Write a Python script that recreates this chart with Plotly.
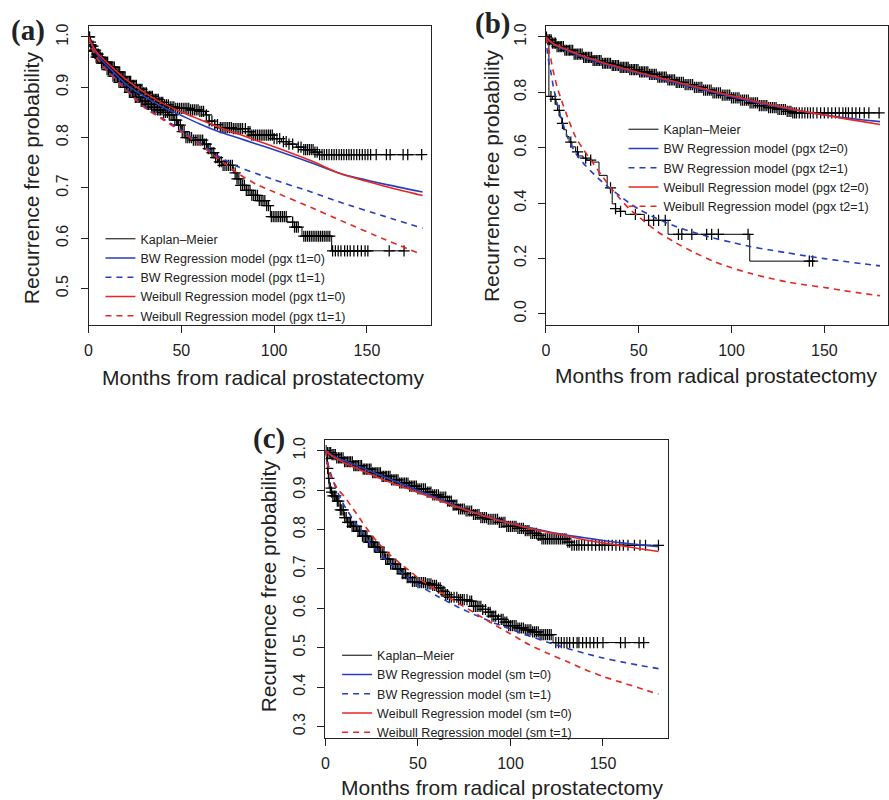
import numpy as np
import plotly.graph_objects as go

# ---------------- Panel (a): pgx t1 ----------------
a_km0_t = [0, 0.8, 1.5, 2.5, 4, 6, 8, 11, 14, 17, 20, 23, 26, 29, 32, 35, 38, 41, 44, 47, 55, 60, 63, 65, 68, 71, 78, 86, 88, 100, 104, 108, 112, 116, 122, 124, 180]
a_km0_s = [1.0, 0.99, 0.982, 0.974, 0.966, 0.958, 0.95, 0.94, 0.93, 0.921, 0.912, 0.904, 0.896, 0.889, 0.882, 0.876, 0.87, 0.865, 0.861, 0.858, 0.855, 0.852, 0.845, 0.833, 0.826, 0.82, 0.818, 0.812, 0.805, 0.798, 0.792, 0.787, 0.781, 0.776, 0.771, 0.766, 0.766]
a_cens0 = [0.3, 1, 1.7, 2.4, 3.1, 3.8, 4.5, 5.2, 6, 6.7, 7.4, 8.1, 8.8, 9.5, 10.3, 11, 11.7, 12.4, 13.1, 13.9, 14.6, 15.3, 16, 16.8, 17.5, 18.2, 19, 19.7, 20.4, 21.2, 22, 22.7, 23.5, 24.2, 25, 25.8, 26.5, 27.3, 28, 28.8, 29.6, 30.4, 31.2, 32, 32.8, 33.6, 34.4, 35.2, 36, 36.8, 37.6, 38.4, 39.2, 40, 41, 42, 43, 44, 45, 46, 47, 48, 49, 50, 51, 52, 53, 54, 55, 56, 57, 58, 59, 60, 61, 62, 63.5, 65, 66.5, 68, 69.5, 71, 72, 73, 74, 75, 76, 77, 78, 79, 80, 81, 82, 83, 84.5, 86, 87, 88, 89, 90, 91, 92, 93, 94, 95, 96, 97, 98, 99, 100, 101.5, 103, 105, 106.5, 108, 110, 113, 114.5, 116, 117, 118, 119, 120, 121, 122, 123.2, 124.5, 125.8, 127, 128.3, 129.6, 131, 132.3, 133.6, 135, 136.3, 137.6, 139, 140.3, 141.6, 143, 144.5, 146, 147.5, 149, 150.5, 152, 155, 160.5, 162.5, 169.5, 172, 179.5]

a_km1_t = [0, 1, 2, 4, 7, 10, 13, 16, 19, 22, 25, 28, 31, 34, 37, 40, 43, 46, 48, 50, 52, 56, 62, 64, 66, 68, 70, 72, 78, 80, 82, 85, 88, 92, 96, 98, 107, 111, 115, 131, 170]
a_km1_s = [1.0, 0.985, 0.972, 0.96, 0.948, 0.935, 0.922, 0.91, 0.9, 0.89, 0.88, 0.872, 0.866, 0.86, 0.855, 0.85, 0.845, 0.835, 0.825, 0.812, 0.80, 0.795, 0.787, 0.778, 0.77, 0.76, 0.752, 0.745, 0.73, 0.718, 0.705, 0.695, 0.685, 0.675, 0.665, 0.643, 0.632, 0.622, 0.604, 0.575, 0.575]
a_cens1 = [0.6, 1.3, 2, 2.7, 3.4, 4.1, 4.8, 5.5, 6.3, 7, 7.8, 8.5, 9.3, 10, 10.8, 11.6, 12.4, 13.2, 14, 14.8, 15.6, 16.4, 17.2, 18, 18.8, 19.6, 20.4, 21.2, 22, 22.8, 23.6, 24.4, 25.2, 26, 26.8, 27.6, 28.4, 29.2, 30, 30.8, 31.6, 32.4, 33.2, 34, 34.8, 35.6, 36.4, 37.2, 38, 38.8, 39.6, 40.5, 41.5, 42.5, 43.5, 44.5, 45.5, 46.5, 47.5, 48.5, 49.5, 50.5, 51.5, 52.5, 53.5, 54.5, 55.5, 56.5, 57.5, 58.5, 59.5, 60.5, 61.5, 62.5, 63.5, 64.5, 65.5, 66.5, 67.5, 68.5, 69.5, 70.5, 71.5, 72.5, 73.5, 74.5, 75.5, 76.5, 77.5, 79, 80, 81, 82, 83, 84, 85, 86, 87, 88, 89, 90, 91, 92, 93, 94, 95, 96, 97, 98.5, 99.5, 100.5, 101.5, 102.5, 103.5, 104.5, 105.5, 106.5, 110, 111, 112, 113, 116, 117, 118, 119, 120, 121, 122, 123, 124, 125, 126, 127, 128, 129, 130, 131.5, 133, 134.5, 136, 138, 139.5, 141, 143, 145, 147, 149, 150.5, 162, 170]

a_mod_t = [0, 2, 5, 10, 20, 30, 40, 50, 60, 70, 80, 90, 100, 120, 136, 160, 180]
a_bw0 = [1.0, 0.982, 0.963, 0.943, 0.907, 0.882, 0.861, 0.844, 0.827, 0.812, 0.80, 0.788, 0.776, 0.750, 0.728, 0.707, 0.692]
a_wb0 = [1.0, 0.984, 0.967, 0.949, 0.916, 0.89, 0.868, 0.851, 0.836, 0.821, 0.808, 0.795, 0.782, 0.754, 0.728, 0.703, 0.685]
a_bw1 = [1.0, 0.978, 0.958, 0.936, 0.898, 0.862, 0.838, 0.815, 0.789, 0.763, 0.743, 0.729, 0.716, 0.692, 0.671, 0.643, 0.620]
a_wb1_t = [0, 2, 5, 10, 20, 30, 40, 50, 60, 70, 80, 90, 100, 120, 136, 160, 178]
a_wb1 = [1.0, 0.976, 0.955, 0.933, 0.895, 0.86, 0.836, 0.812, 0.786, 0.758, 0.73, 0.708, 0.692, 0.661, 0.635, 0.597, 0.570]

# ---------------- Panel (b): pgx t2 ----------------
b_km0_t = [0, 1, 3, 6, 10, 15, 20, 25, 30, 35, 40, 45, 50, 55, 60, 65, 70, 75, 80, 85, 90, 95, 100, 105, 110, 115, 120, 125, 130, 133, 180]
b_km0_s = [1.0, 0.99, 0.978, 0.965, 0.952, 0.938, 0.926, 0.915, 0.905, 0.897, 0.89, 0.882, 0.874, 0.865, 0.855, 0.845, 0.836, 0.828, 0.818, 0.808, 0.798, 0.79, 0.78, 0.772, 0.762, 0.752, 0.745, 0.738, 0.731, 0.726, 0.726]
b_cens0 = [0.3, 1.1, 2, 2.8, 3.5, 4.4, 5.2, 6, 6.9, 7.7, 8.5, 9.4, 10.2, 11, 11.9, 12.7, 13.5, 14.4, 15.2, 16.1, 16.9, 17.8, 18.6, 19.5, 20.3, 21.2, 22, 22.9, 23.7, 24.6, 25.4, 26.3, 27.1, 28, 28.8, 29.7, 30.5, 31.4, 32.2, 33.1, 34, 34.8, 35.7, 36.5, 37.4, 38.3, 39.1, 40, 40.9, 41.7, 42.6, 43.5, 44.3, 45.2, 46.1, 47, 47.8, 48.7, 49.6, 50.5, 51.4, 52.2, 53.1, 54, 54.9, 55.8, 56.7, 57.6, 58.5, 59.4, 60.3, 61.2, 62.1, 63, 63.9, 64.8, 65.7, 66.6, 67.5, 68.4, 69.3, 70.2, 71.1, 72, 73, 74, 75, 76, 77, 78, 79, 80, 81, 82, 83, 84, 85, 86, 87, 88, 89, 90, 91, 92, 93, 94, 95, 96, 97, 98, 99, 100, 101, 102, 103, 104, 105, 106, 107, 108, 109, 110, 111, 112, 113, 114, 115, 116, 117, 118, 119, 120, 121, 122, 123, 124, 125, 126, 127, 128, 129, 130, 131, 132, 133, 134, 135, 136.5, 138, 139.5, 141, 142.5, 144, 146, 148, 150, 152, 154, 156, 158, 160, 161.5, 163, 165, 167, 169, 171.5, 174, 179.5]

b_km1_t = [0, 1.6, 3.5, 5.5, 6.2, 7.5, 8.5, 9.5, 11, 12.5, 14, 16, 17.5, 20, 22, 25, 28.6, 33, 35.7, 37.5, 40, 42.8, 53, 65.8, 109.8, 144.6]
b_km1_s = [1.0, 0.785, 0.775, 0.755, 0.735, 0.71, 0.688, 0.665, 0.64, 0.62, 0.603, 0.585, 0.57, 0.562, 0.555, 0.548, 0.5, 0.455, 0.397, 0.38, 0.37, 0.359, 0.337, 0.287, 0.19, 0.19]
b_cens1 = [2.7, 5.0, 7.1, 8.9, 13.4, 17, 21.4, 24.1, 34.8, 37.5, 40.2, 48.2, 55.3, 58, 60.7, 64.3, 71.4, 73.2, 78.6, 86.6, 89.3, 92.9, 108.9, 141.9, 143.7]

b_mod0_t = [0, 2, 5, 10, 20, 30, 40, 50, 60, 70, 80, 90, 100, 110, 120, 130, 140, 150, 160, 170, 180]
b_bw0 = [1.0, 0.985, 0.97, 0.955, 0.928, 0.905, 0.887, 0.869, 0.851, 0.834, 0.817, 0.80, 0.784, 0.768, 0.754, 0.741, 0.729, 0.718, 0.709, 0.701, 0.694]
b_wb0 = [1.0, 0.986, 0.972, 0.958, 0.931, 0.909, 0.89, 0.872, 0.855, 0.838, 0.821, 0.804, 0.788, 0.772, 0.757, 0.743, 0.73, 0.718, 0.706, 0.695, 0.684]
b_mod1_t = [0, 1, 2.5, 4, 6, 8, 12, 16, 20, 25, 30, 35, 40, 45, 50, 60, 70, 80, 90, 100, 110, 120, 130, 140, 150, 160, 170, 180]
b_bw1 = [1.0, 0.93, 0.88, 0.82, 0.76, 0.71, 0.632, 0.58, 0.545, 0.51, 0.478, 0.45, 0.425, 0.40, 0.378, 0.343, 0.315, 0.293, 0.274, 0.258, 0.243, 0.231, 0.22, 0.209, 0.199, 0.19, 0.181, 0.173]
b_wb1 = [1.0, 0.97, 0.925, 0.875, 0.82, 0.778, 0.704, 0.638, 0.595, 0.548, 0.50, 0.455, 0.415, 0.378, 0.35, 0.297, 0.256, 0.221, 0.19, 0.166, 0.146, 0.129, 0.115, 0.104, 0.095, 0.084, 0.074, 0.065]

# ---------------- Panel (c): sm t ----------------
c_km0_t = [0, 1, 3, 6, 10, 15, 20, 25, 30, 35, 40, 45, 50, 55, 58, 62, 66, 69, 72, 76, 80, 84, 88, 94, 98, 104, 108, 111, 115, 117, 131, 133, 180]
c_km0_s = [1.0, 0.995, 0.99, 0.982, 0.972, 0.962, 0.953, 0.944, 0.935, 0.926, 0.918, 0.91, 0.903, 0.895, 0.888, 0.882, 0.872, 0.862, 0.852, 0.847, 0.838, 0.83, 0.826, 0.818, 0.808, 0.803, 0.797, 0.79, 0.785, 0.776, 0.768, 0.76, 0.76]
c_cens0 = [0.3, 1.1, 2, 2.8, 3.6, 4.5, 5.3, 6.1, 7, 7.8, 8.6, 9.5, 10.3, 11.1, 12, 12.8, 13.6, 14.5, 15.3, 16.1, 17, 17.8, 18.7, 19.5, 20.4, 21.2, 22.1, 22.9, 23.8, 24.6, 25.5, 26.3, 27.2, 28, 28.9, 29.7, 30.6, 31.4, 32.3, 33.1, 34, 34.9, 35.7, 36.6, 37.5, 38.3, 39.2, 40.1, 41, 41.9, 42.8, 43.7, 44.6, 45.5, 46.4, 47.3, 48.2, 49.1, 50, 51, 52, 53, 54, 55, 56, 57, 58, 59, 60, 61, 62, 63, 64, 65, 66, 67, 68, 69, 70, 71, 72, 73, 74, 75, 76, 77, 78, 79, 80, 81, 82, 83, 84, 85, 86, 87, 88, 89, 90, 91, 92, 93, 94, 95, 96, 97, 98, 99, 100, 101, 102, 103, 104, 105, 106, 107, 108, 109, 110, 111, 112, 113, 114, 115, 116, 117, 118, 119, 120, 121, 122, 123, 124, 125, 126, 127, 128, 129, 130, 131, 132, 133.2, 134.5, 135.8, 137, 138.5, 140, 142, 144, 146, 148, 149.5, 151, 153, 155, 157, 159, 161, 163.5, 167, 170, 173, 180]

c_km1_t = [0, 0.5, 1, 1.5, 2, 3, 4, 6, 8, 10, 12, 14, 17, 20, 23, 26, 29, 32, 35, 38, 41, 44, 47, 50, 55, 58, 61, 63, 65, 67, 72, 78, 80, 85, 88, 90, 93, 97, 99, 104, 108, 112, 116, 123, 171]
c_km1_s = [1.0, 0.98, 0.955, 0.93, 0.905, 0.895, 0.885, 0.872, 0.85, 0.83, 0.818, 0.808, 0.796, 0.783, 0.768, 0.755, 0.742, 0.725, 0.712, 0.70, 0.688, 0.678, 0.668, 0.665, 0.662, 0.658, 0.652, 0.643, 0.635, 0.628, 0.622, 0.618, 0.605, 0.597, 0.59, 0.58, 0.572, 0.565, 0.556, 0.55, 0.545, 0.54, 0.533, 0.513, 0.513]
c_cens1 = [0.8, 1.2, 1.8, 2.6, 3.3, 4, 4.8, 5.6, 6.4, 7.2, 8, 8.8, 9.6, 10.4, 11.2, 12, 12.8, 13.6, 14.4, 15.2, 16, 16.8, 17.6, 18.4, 19.2, 20, 20.8, 21.6, 22.4, 23.2, 24, 24.8, 25.6, 26.4, 27.2, 28, 28.9, 29.8, 30.7, 31.6, 32.5, 33.4, 34.3, 35.2, 36.1, 37, 37.9, 38.8, 39.7, 40.6, 41.5, 42.4, 43.3, 44.2, 45.1, 46, 47, 48, 49, 50, 51, 52, 53, 54, 55, 56, 57, 58, 59, 60, 61, 62, 63, 64, 65, 66, 67, 68, 69.5, 71, 72, 73, 74, 75, 76.5, 78, 79, 80, 81, 82, 83, 84, 85, 86.5, 88, 89, 90, 91, 92, 93.5, 95, 96, 97, 98, 99, 100, 101, 102, 103, 104, 105, 106, 107, 108, 109, 110, 111, 112, 113, 114, 115, 116, 117, 118, 119, 120, 121, 122, 124.5, 126, 127.5, 129, 130.5, 132, 134, 136, 137, 139, 141, 143, 145, 147, 150, 159.5, 162, 169.5, 172]

c_mod0_t = [0, 2, 5, 10, 20, 30, 40, 50, 60, 70, 80, 90, 100, 110, 120, 130, 140, 150, 160, 170, 180]
c_bw0 = [1.0, 0.993, 0.985, 0.975, 0.956, 0.937, 0.918, 0.899, 0.88, 0.861, 0.844, 0.829, 0.816, 0.805, 0.795, 0.786, 0.779, 0.772, 0.766, 0.761, 0.756]
c_wb0 = [1.0, 0.991, 0.982, 0.97, 0.949, 0.929, 0.911, 0.894, 0.877, 0.859, 0.843, 0.828, 0.815, 0.803, 0.793, 0.784, 0.774, 0.766, 0.759, 0.751, 0.744]
c_mod1_t = [0, 2, 4, 7, 10, 15, 20, 25, 30, 35, 40, 45, 50, 60, 70, 80, 90, 100, 110, 120, 130, 140, 150, 160, 170, 180]
c_bw1 = [1.0, 0.955, 0.925, 0.89, 0.862, 0.825, 0.792, 0.76, 0.735, 0.713, 0.694, 0.676, 0.66, 0.632, 0.607, 0.585, 0.565, 0.547, 0.53, 0.514, 0.499, 0.486, 0.474, 0.464, 0.455, 0.447]
c_wb1 = [1.0, 0.945, 0.925, 0.9, 0.885, 0.852, 0.818, 0.786, 0.758, 0.735, 0.715, 0.697, 0.677, 0.647, 0.618, 0.59, 0.562, 0.535, 0.508, 0.486, 0.466, 0.445, 0.427, 0.412, 0.397, 0.382]

x_ticks = [0, 50, 100, 150]
a_yticks = [0.5, 0.6, 0.7, 0.8, 0.9, 1.0]
b_yticks = [0.0, 0.2, 0.4, 0.6, 0.8, 1.0]
c_yticks = [0.3, 0.4, 0.5, 0.6, 0.7, 0.8, 0.9, 1.0]

BLUE = "rgb(40,62,190)"
RED = "rgb(232,38,32)"
TXT = "#222222"
SANS = "Liberation Sans, Arial, Helvetica, sans-serif"
SERIF = "Liberation Serif, Times New Roman, serif"

fig = go.Figure()


def add_panel(xa, ya, leg, km_sets, models, labels):
    for i, (t, s, cens) in enumerate(km_sets):
        fig.add_trace(go.Scatter(
            x=t, y=s, mode="lines", line=dict(color="black", width=1, shape="hv"),
            xaxis=xa, yaxis=ya, name="Kaplan–Meier", legend=leg,
            showlegend=(i == 0), hoverinfo="skip"))
        t_arr = np.asarray(t, dtype=float)
        s_arr = np.asarray(s, dtype=float)
        idx = np.searchsorted(t_arr, np.asarray(cens, dtype=float), side="right") - 1
        fig.add_trace(go.Scatter(
            x=cens, y=s_arr[idx], mode="markers",
            marker=dict(symbol="cross-thin", size=8, line=dict(width=1.25, color="black")),
            xaxis=xa, yaxis=ya, showlegend=False, hoverinfo="skip"))
    for (t, s, color, dash), name in zip(models, labels):
        fig.add_trace(go.Scatter(
            x=t, y=s, mode="lines",
            line=dict(color=color, width=1.6, dash=dash, shape="spline", smoothing=0.6),
            xaxis=xa, yaxis=ya, name=name, legend=leg, hoverinfo="skip"))


DASH = "6px,5px"
add_panel("x", "y", "legend",
          [(a_km0_t, a_km0_s, a_cens0), (a_km1_t, a_km1_s, a_cens1)],
          [(a_mod_t, a_bw0, BLUE, "solid"), (a_mod_t, a_bw1, BLUE, DASH),
           (a_mod_t, a_wb0, RED, "solid"), (a_wb1_t, a_wb1, RED, DASH)],
          ["BW Regression model (pgx t1=0)", "BW Regression model (pgx t1=1)",
           "Weibull Regression model (pgx t1=0)", "Weibull Regression model (pgx t1=1)"])
add_panel("x2", "y2", "legend2",
          [(b_km0_t, b_km0_s, b_cens0), (b_km1_t, b_km1_s, b_cens1)],
          [(b_mod0_t, b_bw0, BLUE, "solid"), (b_mod1_t, b_bw1, BLUE, DASH),
           (b_mod0_t, b_wb0, RED, "solid"), (b_mod1_t, b_wb1, RED, DASH)],
          ["BW Regression model (pgx t2=0)", "BW Regression model (pgx t2=1)",
           "Weibull Regression model (pgx t2=0)", "Weibull Regression model (pgx t2=1)"])
add_panel("x3", "y3", "legend3",
          [(c_km0_t, c_km0_s, c_cens0), (c_km1_t, c_km1_s, c_cens1)],
          [(c_mod0_t, c_bw0, BLUE, "solid"), (c_mod1_t, c_bw1, BLUE, DASH),
           (c_mod0_t, c_wb0, RED, "solid"), (c_mod1_t, c_wb1, RED, DASH)],
          ["BW Regression model (sm t=0)", "BW Regression model (sm t=1)",
           "Weibull Regression model (sm t=0)", "Weibull Regression model (sm t=1)"])

W, H = 889, 800


def px_x(v):
    return v / W


def px_y(v):
    return 1 - v / H


axis_common = dict(showline=True, linecolor="#222", linewidth=1, mirror=True,
                   ticks="outside", ticklen=7, tickwidth=1, tickcolor="#222",
                   showgrid=False, zeroline=False,
                   tickfont=dict(family=SANS, size=16, color=TXT))

xcommon = dict(axis_common, tickvals=x_ticks, ticktext=[str(v) for v in x_ticks], ticklabelstandoff=4)
ycommon = dict(axis_common, tickangle=-90, tickformat=".1f", ticklabelstandoff=6)

fig.update_layout(
    width=W, height=H, margin=dict(l=0, r=0, t=0, b=0),
    paper_bgcolor="white", plot_bgcolor="white",
    xaxis=dict(xcommon, domain=[px_x(85), px_x(429)], range=[0, 184.3], anchor="y"),
    yaxis=dict(ycommon, domain=[px_y(323), px_y(23)], range=[0.428, 1.022], tickvals=a_yticks, anchor="x"),
    xaxis2=dict(xcommon, domain=[px_x(545), 1.0], range=[0, 184.3], anchor="y2"),
    yaxis2=dict(ycommon, domain=[px_y(323), px_y(23)], range=[-0.04, 1.04], tickvals=b_yticks, anchor="x2"),
    xaxis3=dict(xcommon, domain=[px_x(323.3), px_x(667.3)], range=[0, 184.9], anchor="y3"),
    yaxis3=dict(ycommon, domain=[px_y(737.3), px_y(438.3)], range=[0.272, 1.028], tickvals=c_yticks, anchor="x3"),
    showlegend=True,
)

leg_common = dict(xanchor="left", yanchor="top", bgcolor="rgba(0,0,0,0)", borderwidth=0,
                  font=dict(family=SANS, size=12.5, color=TXT), tracegroupgap=0, itemwidth=30)
fig.update_layout(
    legend=dict(leg_common, x=px_x(97), y=px_y(222)),
    legend2=dict(leg_common, x=px_x(623), y=px_y(112)),
    legend3=dict(leg_common, x=px_x(335), y=px_y(640)),
)

annots = []
for lab, cx, cy in [("(a)", 24.5, 27.5), ("(b)", 491, 21), ("(c)", 266, 437.5)]:
    annots.append(dict(text="<b>" + lab + "</b>", x=px_x(cx), y=px_y(cy), xref="paper", yref="paper",
                       xanchor="center", yanchor="middle", showarrow=False,
                       font=dict(family=SERIF, size=29, color=TXT)))
for cx, cy in [(261, 376), (716.5, 374), (501, 787)]:
    annots.append(dict(text="Months from radical prostatectomy", x=px_x(cx), y=px_y(cy),
                       xref="paper", yref="paper", xanchor="center", yanchor="middle",
                       showarrow=False, font=dict(family=SANS, size=21, color=TXT)))
for cx, cy in [(27, 175), (491, 173.5), (266, 585)]:
    annots.append(dict(text="Recurrence free probability", x=px_x(cx), y=px_y(cy),
                       xref="paper", yref="paper", xanchor="center", yanchor="middle",
                       textangle=-90, showarrow=False, font=dict(family=SANS, size=21, color=TXT)))
fig.update_layout(annotations=annots)

fig.write_html("out.html")
